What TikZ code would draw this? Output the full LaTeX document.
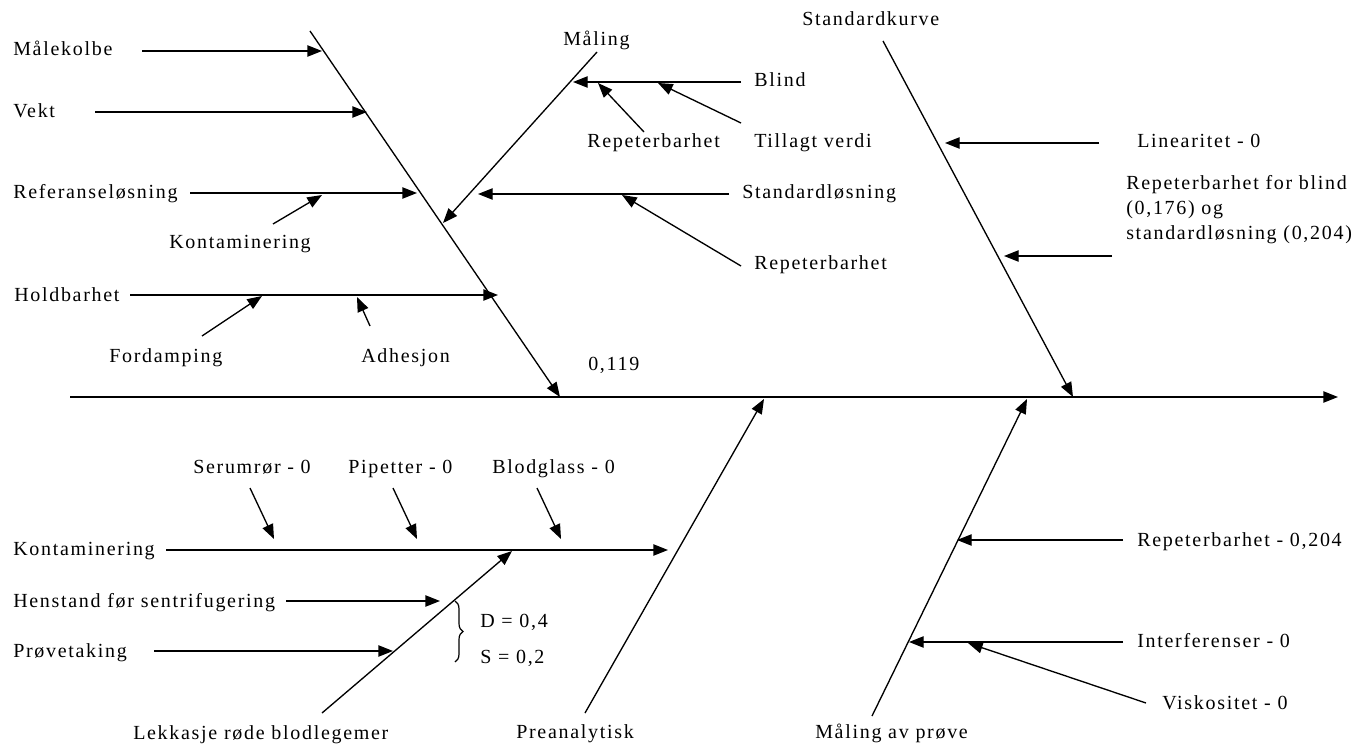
\documentclass[tikz,border=0pt]{standalone}
\usepackage{fontspec}
\setmainfont{Liberation Serif}[LetterSpace=8.5]
\usetikzlibrary{arrows.meta,decorations.pathreplacing}

\begin{document}
\begin{tikzpicture}[x=0.75pt,y=-0.75pt,
  lbl/.style={anchor=base west, inner sep=0pt, font=\fontsize{15}{18.75}\selectfont},
  arr/.style={-{Triangle[length=11pt,width=8.5pt]}, line width=1pt},
  bone/.style={line width=1pt}]
\useasboundingbox (0,0) rectangle (1355,745);

% ---------- labels ----------
\node[lbl] (mk)    at (13,56)   {Målekolbe};
\node[lbl] (vekt)  at (13,118)  {Vekt};
\node[lbl] (ref)   at (13,199)  {Referanseløsning};
\node[lbl] (kontA) at (169,248) {Kontaminering};
\node[lbl] (hold)  at (14,301)  {Holdbarhet};
\node[lbl] (ford)  at (109,362) {Fordamping};
\node[lbl] (adh)   at (361,362) {Adhesjon};
\node[lbl] (val)   at (588,370) {0,119};
\node[lbl] (maal)  at (563,46)  {Måling};
\node[lbl] (blind) at (754,87)  {Blind};
\node[lbl] (repA)  at (587,148) {Repeterbarhet};
\node[lbl] (till)  at (754,148) {Tillagt verdi};
\node[lbl] (std)   at (742,199) {Standardløsning};
\node[lbl] (repB)  at (754,269) {Repeterbarhet};
\node[lbl] (skurv) at (802,26)  {Standardkurve};
\node[lbl] (lin)   at (1137,148){Linearitet - 0};
\node[lbl,align=left] (repbl) at (1126,239)
  {Repeterbarhet for blind\\(0,176) og\\standardløsning (0,204)};

\node[lbl] (ser)   at (193,473) {Serumrør - 0};
\node[lbl] (pip)   at (348,473) {Pipetter - 0};
\node[lbl] (blod)  at (492,473) {Blodglass - 0};
\node[lbl] (kontB) at (13,555)  {Kontaminering};
\node[lbl] (hen)   at (13,607)  {Henstand før sentrifugering};
\node[lbl] (prove) at (13,657)  {Prøvetaking};
\node[lbl] (lek)   at (133,739) {Lekkasje røde blodlegemer};
\node[lbl] (dval)  at (480,627) {D = 0,4};
\node[lbl] (sval)  at (480,663) {S = 0,2};
\node[lbl] (pre)   at (516,738) {Preanalytisk};
\node[lbl] (mav)   at (815,738) {Måling av prøve};
\node[lbl] (repC)  at (1137,546){Repeterbarhet - 0,204};
\node[lbl] (inter) at (1137,647){Interferenser - 0};
\node[lbl] (visk)  at (1162,709){Viskositet - 0};

% ---------- main axis ----------
\coordinate (axL) at (70,397);
\coordinate (axR) at (1338,397);
\draw[arr] (axL) -- (axR);

% ---------- upper left bone ----------
\coordinate (b1s) at (310,31);   \coordinate (b1e) at (560,397);
\draw[arr] (b1s) -- (b1e);
\coordinate (mkS) at (142,51);   \coordinate (mkE) at (322,51);
\draw[arr] (mkS) -- (mkE);
\coordinate (vkS) at (95,112);   \coordinate (vkE) at (367,112);
\draw[arr] (vkS) -- (vkE);
\coordinate (rfS) at (190,193);  \coordinate (rfE) at (417,193);
\draw[arr] (rfS) -- (rfE);
\coordinate (kaS) at (273,224);  \coordinate (kaE) at (322,195);
\draw[arr] (kaS) -- (kaE);
\coordinate (hoS) at (130,295);  \coordinate (hoE) at (498,295);
\draw[arr] (hoS) -- (hoE);
\coordinate (foS) at (202,336);  \coordinate (foE) at (262,296);
\draw[arr] (foS) -- (foE);
\coordinate (adS) at (370,326);  \coordinate (adE) at (357,297);
\draw[arr] (adS) -- (adE);

% ---------- Måling branch ----------
\coordinate (maS) at (597,52);   \coordinate (maE) at (443,223);
\draw[arr] (maS) -- (maE);
\coordinate (blS) at (741,82);   \coordinate (blE) at (573,82);
\draw[arr] (blS) -- (blE);
\coordinate (raS) at (644,132);  \coordinate (raE) at (598,83);
\draw[arr] (raS) -- (raE);
\coordinate (tiS) at (741,123);  \coordinate (tiE) at (658,83);
\draw[arr] (tiS) -- (tiE);
\coordinate (stS) at (729,194);  \coordinate (stE) at (478,194);
\draw[arr] (stS) -- (stE);
\coordinate (rbS) at (741,266);  \coordinate (rbE) at (622,195);
\draw[arr] (rbS) -- (rbE);

% ---------- Standardkurve bone ----------
\coordinate (skS) at (883,41);   \coordinate (skE) at (1073,397);
\draw[arr] (skS) -- (skE);
\coordinate (liS) at (1099,143); \coordinate (liE) at (945,143);
\draw[arr] (liS) -- (liE);
\coordinate (rlS) at (1112,256); \coordinate (rlE) at (1004,256);
\draw[arr] (rlS) -- (rlE);

% ---------- Preanalytisk bone ----------
\coordinate (prS) at (585,713);  \coordinate (prE) at (764,399);
\draw[arr] (prS) -- (prE);
\coordinate (kbS) at (166,550);  \coordinate (kbE) at (668,550);
\draw[arr] (kbS) -- (kbE);
\coordinate (seS) at (250,488);  \coordinate (seE) at (274,539);
\draw[arr] (seS) -- (seE);
\coordinate (piS) at (393,488);  \coordinate (piE) at (417,539);
\draw[arr] (piS) -- (piE);
\coordinate (bgS) at (537,488);  \coordinate (bgE) at (561,539);
\draw[arr] (bgS) -- (bgE);
\coordinate (leS) at (322,713);  \coordinate (leE) at (512,551);
\draw[arr] (leS) -- (leE);
\coordinate (heS) at (286,601);  \coordinate (heE) at (440,601);
\draw[arr] (heS) -- (heE);
\coordinate (pvS) at (154,651);  \coordinate (pvE) at (393,651);
\draw[arr] (pvS) -- (pvE);
\coordinate (brT) at (455,601);  \coordinate (brB) at (455,662);
\draw[bone, line width=0.9pt, decorate, decoration={brace, amplitude=6pt}] (brT) -- (brB);

% ---------- Måling av prøve bone ----------
\coordinate (mvS) at (872,716);  \coordinate (mvE) at (1027,399);
\draw[arr] (mvS) -- (mvE);
\coordinate (rcS) at (1123,540); \coordinate (rcE) at (957,540);
\draw[arr] (rcS) -- (rcE);
\coordinate (inS) at (1123,642); \coordinate (inE) at (909,642);
\draw[arr] (inS) -- (inE);
\coordinate (viS) at (1146,703); \coordinate (viE) at (968,643);
\draw[arr] (viS) -- (viE);
\end{tikzpicture}
\end{document}
